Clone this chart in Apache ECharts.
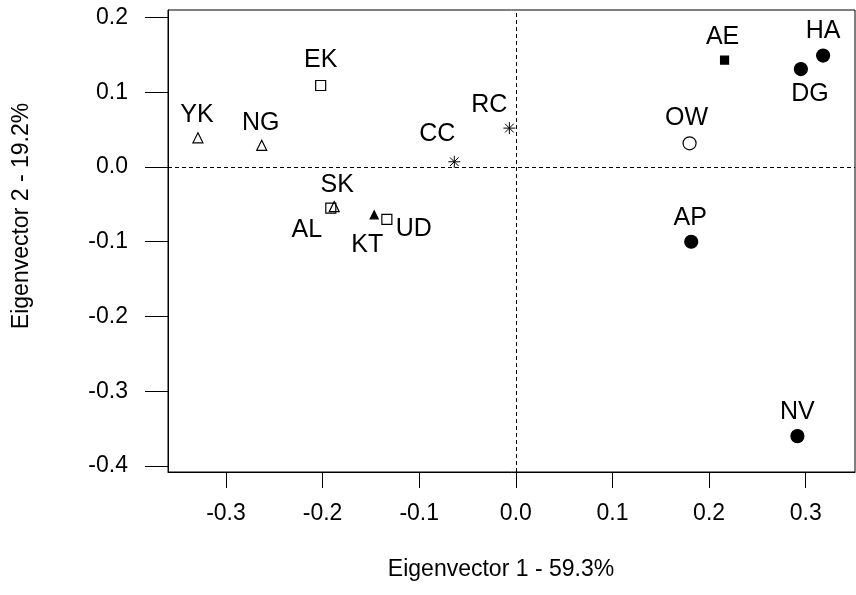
<!DOCTYPE html>
<html>
<head>
<meta charset="utf-8">
<script src="https://cdn.jsdelivr.net/npm/echarts@6/dist/echarts.min.js"></script>
<style>html,body{margin:0;padding:0;background:#fff;}#c{width:856px;height:595px;}</style>
</head>
<body>
<div id="c"></div>
<script>
// ---- data ----
var openTriangles = [['YK', -0.329, 0.039], ['NG', -0.263, 0.029], ['SK', -0.188, -0.053]];
var openSquares   = [['EK', -0.202, 0.109], ['AL', -0.1915, -0.055], ['UD', -0.1335, -0.070]];
var filledTriangles = [['KT', -0.1466, -0.064]];
var asterisks     = [['CC', -0.0637, 0.007], ['RC', -0.0067, 0.052]];
var filledSquares = [['AE', 0.216, 0.143]];
var filledCircles = [['HA', 0.318, 0.149], ['DG', 0.295, 0.131], ['AP', 0.1815, -0.100], ['NV', 0.2914, -0.360]];
var openCircles   = [['OW', 0.1798, 0.0317]];
var xTicks = [-0.3, -0.2, -0.1, 0.0, 0.1, 0.2, 0.3];
var yTicks = [0.2, 0.1, 0.0, -0.1, -0.2, -0.3, -0.4];
var xTitle = 'Eigenvector 1 - 59.3%';
var yTitle = 'Eigenvector 2 - 19.2%';

// label offsets (layout only)
var labelOffset = {
  EK: [0, -25], YK: [-1, -23], NG: [-1, -22], CC: [-17, -28], RC: [-20, -23],
  AE: [-2, -23], HA: [0, -24], DG: [9, 25], OW: [-3, -25], SK: [3, -22],
  AL: [-24, 22], KT: [-7, 30], UD: [27, 10], AP: [-1, -24], NV: [0, -24]
};

var FONT = '"Liberation Sans", Arial, sans-serif';

function mk(rows, symbol, size, filled, extra) {
  return Object.assign({
    type: 'scatter',
    symbol: symbol,
    symbolSize: size,
    symbolKeepAspect: true,
    itemStyle: {
      color: filled ? '#000' : 'rgba(255,255,255,0)',
      borderColor: '#000',
      borderWidth: 1.2,
      opacity: 1
    },
    label: {
      show: true,
      position: 'inside',
      fontFamily: FONT,
      fontSize: 25,
      color: '#000',
      textBorderWidth: 0,
      formatter: function (p) { return p.data.name; }
    },
    emphasis: { disabled: true },
    data: rows.map(function (r) {
      return { name: r[0], value: [r[1], r[2]], label: { offset: labelOffset[r[0]] } };
    })
  }, extra || {});
}

var star = 'path://M0,-1L0,1M-1,0L1,0M-0.72,-0.72L0.72,0.72M-0.72,0.72L0.72,-0.72';

var series = [
  mk(openTriangles, 'triangle', 10, false),
  mk(openSquares, 'rect', 10, false),
  mk(filledTriangles, 'triangle', 8, true),
  mk(asterisks, star, 12, false, { itemStyle: { color: 'none', borderColor: '#000', borderWidth: 1, opacity: 1 } }),
  mk(filledSquares, 'rect', 8, true),
  mk(filledCircles, 'circle', 13, true),
  mk(openCircles, 'circle', 13, false)
];
series[0].markLine = {
  silent: true,
  symbol: 'none',
  label: { show: false },
  lineStyle: { color: '#000', width: 1, type: [4, 3], opacity: 1 },
  data: [{ xAxis: 0 }, { yAxis: 0 }]
};

var chart = echarts.init(document.getElementById('c'), null, { renderer: 'canvas' });
chart.setOption({
  backgroundColor: '#fff',
  animation: false,
  grid: {
    left: 168, right: 1, top: 10, bottom: 123,
    show: true, borderColor: '#000', borderWidth: 1, backgroundColor: 'transparent'
  },
  xAxis: {
    type: 'value', min: -0.36, max: 0.351,
    axisLine: { show: true, onZero: false, lineStyle: { color: '#000', width: 1 } },
    axisTick: { show: true, inside: false, length: 16, customValues: xTicks, lineStyle: { color: '#000', width: 1 } },
    axisLabel: {
      customValues: xTicks, margin: 30, color: '#000', fontFamily: FONT, fontSize: 23,
      formatter: function (v) { return (+v).toFixed(1); }
    },
    splitLine: { show: false }
  },
  yAxis: {
    type: 'value', min: -0.408, max: 0.210,
    axisLine: { show: true, onZero: false, lineStyle: { color: '#000', width: 1 } },
    axisTick: { show: true, inside: false, length: 23, customValues: yTicks, lineStyle: { color: '#000', width: 1 } },
    axisLabel: {
      customValues: yTicks, margin: 40, color: '#000', fontFamily: FONT, fontSize: 23,
      formatter: function (v) { return (+v).toFixed(1); }
    },
    splitLine: { show: false }
  },
  graphic: [
    { type: 'text', x: 501, y: 570, style: { text: xTitle, font: '23px ' + FONT, fill: '#000', align: 'center', verticalAlign: 'middle' } },
    { type: 'text', x: 22, y: 216, rotation: Math.PI / 2, style: { text: yTitle, font: '23px ' + FONT, fill: '#000', align: 'center', verticalAlign: 'middle' } }
  ],
  series: series
});
</script>
</body>
</html>
